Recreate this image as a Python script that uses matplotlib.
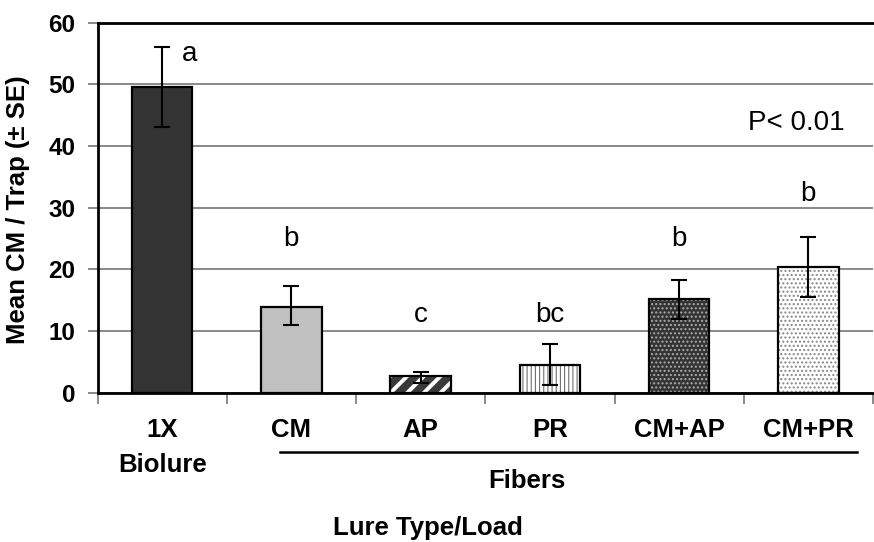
import matplotlib
matplotlib.use("Agg")
import matplotlib.pyplot as plt
import numpy as np
from matplotlib.transforms import blended_transform_factory

plt.rcParams['font.family'] = ['Liberation Sans', 'DejaVu Sans']

categories = ["1X", "CM", "AP", "PR", "CM+AP", "CM+PR"]
means = [49.6, 13.9, 2.7, 4.5, 15.2, 20.4]
err_low = [43.1, 11.0, 1.6, 1.25, 11.9, 15.6]
err_high = [56.1, 17.3, 3.3, 7.9, 18.2, 25.3]
letters = ["a", "b", "c", "bc", "b", "b"]
letter_y = [55.0, 25.0, 12.6, 12.6, 25.0, 32.3]

faces = ["#333333", "#c0c0c0", "#3a3a3a", "white", "#333333", "white"]
hatches = [None, None, "//", "||||", "....", "...."]
hatch_colors = [None, None, "white", "#707070", "#aaaaaa", "#888888"]
hatch_lw = [1.0, 1.0, 2.8, 0.8, 1.0, 1.0]

fig = plt.figure(figsize=(8.74, 5.42), dpi=100)
ax = fig.add_axes([97.5 / 874, (542 - 392.7) / 542, (873 - 97.5) / 874, 370 / 542])

x = np.arange(len(categories))
w = 0.47
for i in range(len(categories)):
    if hatches[i]:
        plt.rcParams['hatch.color'] = hatch_colors[i]
        plt.rcParams['hatch.linewidth'] = hatch_lw[i]
        ax.bar(x[i], means[i], w, color=faces[i], hatch=hatches[i],
               edgecolor=hatch_colors[i], linewidth=0, zorder=2)
        ax.bar(x[i], means[i], w, facecolor='none', edgecolor='black',
               linewidth=1.6, zorder=3)
    else:
        ax.bar(x[i], means[i], w, color=faces[i], edgecolor='black',
               linewidth=1.6, zorder=2)

means_a = np.array(means)
yerr = [means_a - np.array(err_low), np.array(err_high) - means_a]
ax.errorbar(x, means, yerr=yerr, fmt='none', ecolor='black',
            elinewidth=1.5, capsize=5.8, capthick=1.5, zorder=4)

for i in range(len(categories)):
    dx = 0.21 if i == 0 else 0.0
    ax.text(x[i] + dx, letter_y[i], letters[i], ha='center', va='center',
            fontsize=20)
ax.text(4.91, 43.7, "P< 0.01", ha='center', va='center', fontsize=20)

ax.set_ylim(0, 60)
ax.set_xlim(-0.5, 5.5)
ax.set_yticks(np.arange(0, 61, 10))
ax.yaxis.grid(True, color='#808080', linewidth=1.3, zorder=0)
ax.set_axisbelow(True)
ax.tick_params(axis='y', direction='out', length=7, width=1.3, color='#808080',
               labelsize=17.5, pad=9)
for lab in ax.get_yticklabels():
    lab.set_fontweight('bold')

ax.set_xticks(np.arange(-0.5, 5.6, 1.0))
ax.set_xticklabels([])
ax.tick_params(axis='x', direction='out', length=8, width=1.3, color='#808080')

ax.spines['right'].set_visible(False)
for s in ['top', 'left', 'bottom']:
    ax.spines[s].set_linewidth(2)

trans = blended_transform_factory(ax.transData, fig.transFigure)
for i, c in enumerate(categories):
    ax.text(x[i], 1 - 430 / 542, c, transform=trans, ha='center', va='center',
            fontsize=18.5, fontweight='bold')
ax.text(x[0], 1 - 465 / 542, "Biolure", transform=trans, ha='center',
        va='center', fontsize=18.5, fontweight='bold')

fig.add_artist(plt.Line2D([280 / 874, 857 / 874], [1 - 452 / 542] * 2,
                          color='black', linewidth=1.8))
fig.text(527 / 874, 1 - 481 / 542, "Fibers", ha='center', va='center',
         fontsize=18.5, fontweight='bold')
fig.text(428 / 874, 1 - 528 / 542, "Lure Type/Load", ha='center', va='center',
         fontsize=18.5, fontweight='bold')
fig.text(18 / 874, 1 - 209.5 / 542, "Mean CM / Trap (\u00b1 SE)", rotation=90,
         ha='center', va='center', fontsize=18.5, fontweight='bold')

fig.savefig("out.png", dpi=100)
